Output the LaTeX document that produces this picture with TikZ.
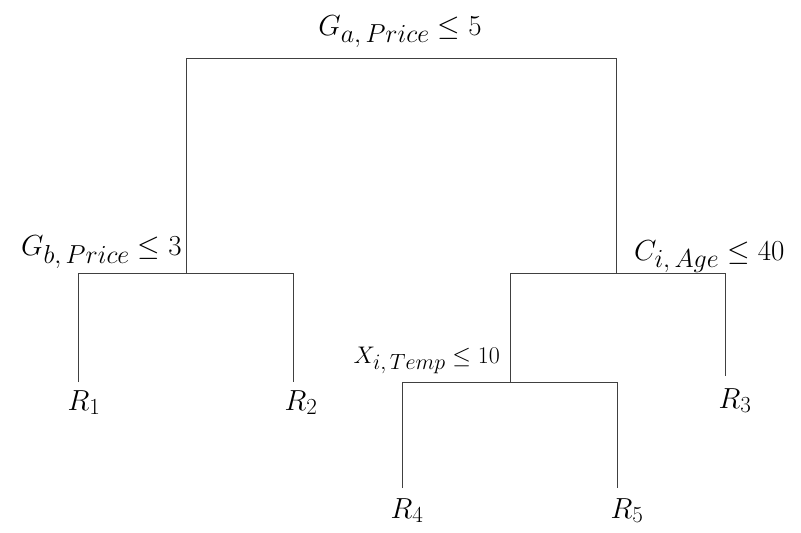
\RequirePackage{fix-cm}
\documentclass[tikz,border=0pt]{standalone}
\usetikzlibrary{positioning}
% Indice plus grand que la taille par défaut
\newcommand{\sousind}[2]{_{\mbox{\fontsize{#1}{#1}\selectfont$#2$}}}
\begin{document}
\begin{tikzpicture}[x=1pt, y=-1pt,
  branche/.style={draw=black!75, line width=0.8pt},
  regle/.style={font=\fontsize{29}{34}\selectfont, anchor=base, inner sep=0pt},
  petite/.style={font=\fontsize{24}{28}\selectfont, anchor=base, inner sep=0pt},
  feuille/.style={font=\fontsize{29}{34}\selectfont, anchor=base, inner sep=0pt}]
\useasboundingbox (0,0) rectangle (801,533);

% Points de séparation
\coordinate (a1) at (186,58);
\coordinate (a2) at (616,58);
\coordinate (b0) at (186,273);
\coordinate (b1) at (78,273);
\coordinate (b2) at (293,273);
\coordinate (c0) at (616,273);
\coordinate (c1) at (510,273);
\coordinate (c2) at (725,273);
\coordinate (x0) at (510,382);
\coordinate (x1) at (402,382);
\coordinate (x2) at (617,382);

% Bouts des branches
\coordinate (f1) at (78,382);
\coordinate (f2) at (293,382);
\coordinate (f3) at (725,376);
\coordinate (f4) at (402,488);
\coordinate (f5) at (617,488);

% Règles de décision
\node[regle] (ga) at (400,35) {$G\sousind{26}{a{,}\,Price} \leq 5$};
\node[regle, anchor=base east] (gb) at (182,255) {$G\sousind{26}{b{,}\,Price} \leq 3$};
\node[regle, anchor=base west] (ci) at (634,260) {$C\sousind{26}{i{,}\,Age} \leq 40$};
\node[petite, anchor=base east] (xi) at (500,363) {$X\sousind{22}{i{,}\,Temp} \leq 10$};

% Feuilles
\node[feuille] (r1) at (84,410) {$R\sousind{23}{1}$};
\node[feuille] (r2) at (301,410) {$R\sousind{23}{2}$};
\node[feuille] (r3) at (735,408) {$R\sousind{23}{3}$};
\node[feuille] (r4) at (407,518) {$R\sousind{23}{4}$};
\node[feuille] (r5) at (627,518) {$R\sousind{23}{5}$};

% Arbre
\draw[branche] (b0) -- (a1) -- (a2) -- (c0);
\draw[branche] (f1) -- (b1) -- (b2) -- (f2);
\draw[branche] (x0) -- (c1) -- (c2) -- (f3);
\draw[branche] (f4) -- (x1) -- (x2) -- (f5);

\end{tikzpicture}
\end{document}
